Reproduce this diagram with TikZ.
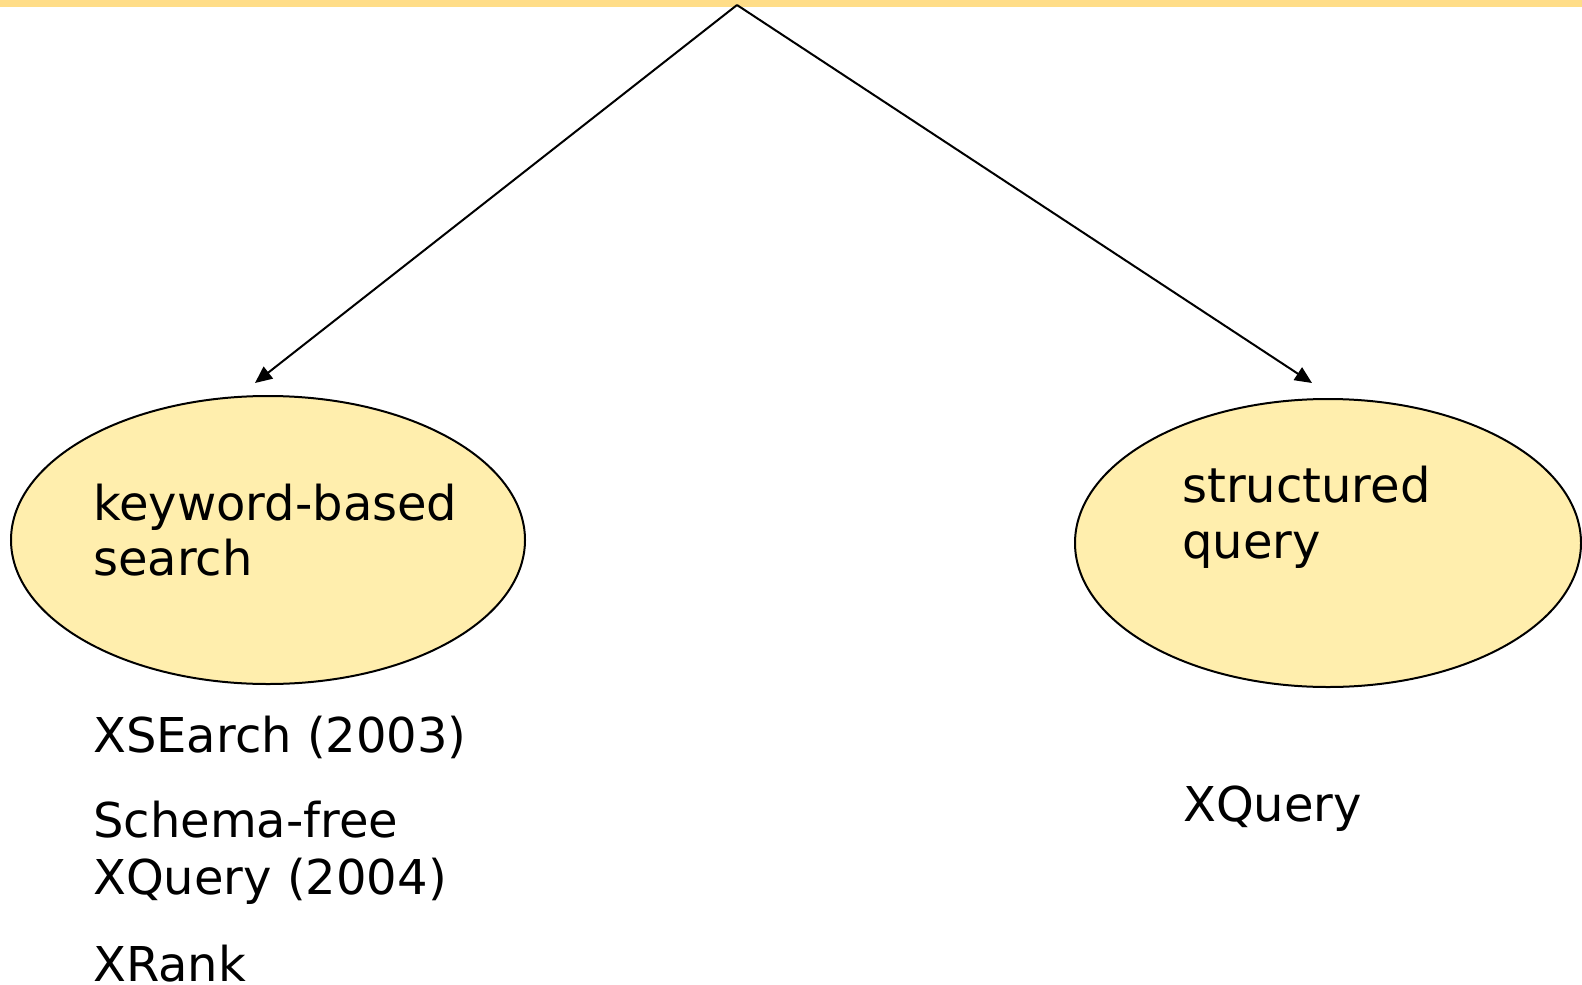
\documentclass[tikz,border=0pt]{standalone}
\usepackage{fontspec}
\setmainfont{DejaVu Sans}
\usetikzlibrary{arrows.meta,shapes.geometric}
\definecolor{barcol}{RGB}{255,221,136}
\definecolor{blobfill}{RGB}{255,238,173}
\tikzset{
  blob/.style={ellipse, draw=black, line width=2pt, fill=blobfill, inner sep=0pt},
  label/.style={anchor=base west, inner sep=0pt, align=left,
    font=\fontsize{48}{55}\selectfont},
  branch/.style={line width=2pt, -{Triangle[length=17pt,width=15pt]}}
}
\begin{document}
\begin{tikzpicture}[x=1pt,y=-1pt]
  \useasboundingbox (0,0) rectangle (1582,985);
  % header strip
  \fill[barcol] (0,0) rectangle (1582,7);
  % the two categories
  \node[blob, minimum width=514pt, minimum height=288pt] (kw) at (268,540) {};
  \node[blob, minimum width=506pt, minimum height=288pt] (sq) at (1328,543) {};
  % multi-line labels are anchored at the baseline of their last line
  \node[label] (kwtext) at (93,575) {keyword-based\\search};
  \node[label, font=\fontsize{48}{56}\selectfont] (sqtext) at (1182,558) {structured\\query};
  % examples under each category
  \node[label] (xsearch) at (93,752) {XSEarch (2003)};
  \node[label, font=\fontsize{48}{57}\selectfont] (sfx) at (93,894) {Schema-free\\XQuery (2004)};
  \node[label] (xrank) at (93,981) {XRank};
  \node[label] (xquery) at (1183,821) {XQuery};
  % branching connectors
  \coordinate (apex) at (737,5);
  \coordinate (kwtip) at (255,383);
  \coordinate (sqtip) at (1312,383);
  \draw[branch] (apex) -- (kwtip);
  \draw[branch] (apex) -- (sqtip);
\end{tikzpicture}
\end{document}
